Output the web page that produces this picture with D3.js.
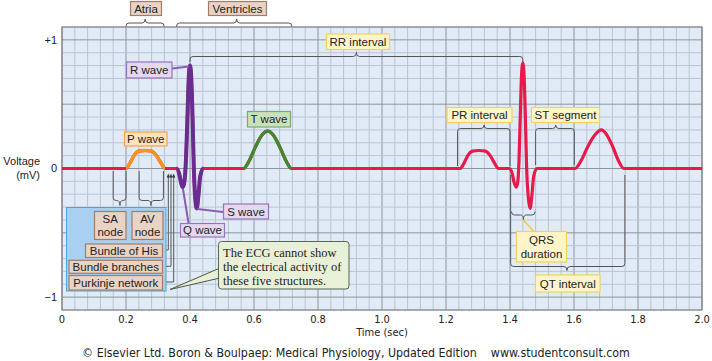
<!DOCTYPE html>
<html>
<head>
<meta charset="utf-8">
<script src="https://cdn.jsdelivr.net/npm/d3@7"></script>
<style>
body { margin: 0; background: #fff; }
text { font-family: "Liberation Sans", Arial, sans-serif; fill: #222; }
.narrow { font-family: "Liberation Sans Narrow", "DejaVu Sans Condensed", "Arial Narrow", sans-serif; font-stretch: condensed; }
.serif { font-family: "Liberation Serif", "DejaVu Serif", serif; }
</style>
</head>
<body>
<script>
// ECG trace: time (s), voltage (mV)
var ecgTime = [0, 0.200, 0.212, 0.225, 0.240, 0.260, 0.280, 0.295, 0.310, 0.322,
  0.358, 0.366, 0.372, 0.377, 0.382, 0.387, 0.392, 0.396, 0.400, 0.404, 0.408, 0.412, 0.416, 0.421, 0.426, 0.432, 0.442,
  0.567, 0.585, 0.605, 0.625, 0.643, 0.660, 0.680, 0.700, 0.717,
  1.244, 1.256, 1.268, 1.283, 1.303, 1.323, 1.338, 1.352, 1.364,
  1.399, 1.407, 1.413, 1.419, 1.424, 1.428, 1.432, 1.436, 1.440, 1.444, 1.448, 1.452, 1.457, 1.463, 1.468, 1.474, 1.484,
  1.603, 1.622, 1.643, 1.665, 1.685, 1.703, 1.721, 1.739, 1.756, 2.000];
var ecgVolt = [0, 0, 0.04, 0.10, 0.135, 0.14, 0.135, 0.10, 0.04, 0,
  0, -0.04, -0.11, -0.145, -0.11, 0.05, 0.40, 0.70, 0.80, 0.70, 0.40, 0.00, -0.22, -0.31, -0.22, -0.06, 0,
  0, 0.06, 0.17, 0.26, 0.29, 0.26, 0.17, 0.06, 0,
  0, 0.04, 0.10, 0.135, 0.14, 0.135, 0.10, 0.04, 0,
  0, -0.04, -0.11, -0.145, -0.11, 0.05, 0.40, 0.72, 0.82, 0.72, 0.40, 0.00, -0.22, -0.31, -0.22, -0.06, 0,
  0, 0.06, 0.17, 0.26, 0.30, 0.26, 0.17, 0.06, 0, 0];

// coloured waves of the first beat: start / end time
var waveNames = ["P", "QRS", "T"];
var waveStart = [0.200, 0.358, 0.567];
var waveEnd   = [0.322, 0.442, 0.717];
var waveColor = ["#f7941d", "#6a2c91", "#3f8a2f"];

var xTicks = [0, 0.2, 0.4, 0.6, 0.8, 1.0, 1.2, 1.4, 1.6, 1.8, 2.0];
var xTickLabels = ["0", "0.2", "0.4", "0.6", "0.8", "1.0", "1.2", "1.4", "1.6", "1.8", "2.0"];
var yTicks = [1, 0, -1];
var yTickLabels = ["+1", "0", "\u22121"];

var W = 712, H = 361;
var svg = d3.select('body').append('svg')
    .attr('width', W)
    .attr('height', H);

var x = d3.scaleLinear().domain([0, 2.0]).range([62, 702]);
var y = d3.scaleLinear().domain([-1.1, 1.1]).range([310, 27]);

// paper
svg.append('rect')
    .attr('x', x(0)).attr('y', y(1.1))
    .attr('width', x(2) - x(0)).attr('height', y(-1.1) - y(1.1))
    .attr('fill', '#e1ebf7');

var grid = svg.append('g');
d3.range(0, 51).forEach(function(i) {
    var t = i * 0.04;
    grid.append('line')
        .attr('x1', x(t)).attr('x2', x(t))
        .attr('y1', y(1.1)).attr('y2', y(-1.1))
        .attr('stroke', i % 5 === 0 ? '#8e9399' : '#b9c4d2')
        .attr('stroke-width', 1);
});
d3.range(-11, 12).forEach(function(i) {
    var v = i / 10;
    grid.append('line')
        .attr('x1', x(0)).attr('x2', x(2))
        .attr('y1', y(v)).attr('y2', y(v))
        .attr('stroke', i % 5 === 0 ? '#8e9399' : '#b9c4d2')
        .attr('stroke-width', 1);
});
svg.append('rect')
    .attr('x', x(0)).attr('y', y(1.1))
    .attr('width', x(2) - x(0)).attr('height', y(-1.1) - y(1.1))
    .attr('fill', 'none').attr('stroke', '#777');

// axes text
svg.selectAll('.xt').data(xTicks).enter().append('text')
    .attr('class', 'narrow')
    .attr('x', function(d) { return x(d); })
    .attr('y', 323)
    .attr('text-anchor', 'middle')
    .attr('font-size', 11)
    .text(function(d, i) { return xTickLabels[i]; });
svg.selectAll('.yt').data(yTicks).enter().append('text')
    .attr('x', 57)
    .attr('y', function(d) { return y(d); })
    .attr('dy', '0.35em')
    .attr('text-anchor', 'end')
    .attr('font-size', 11)
    .text(function(d, i) { return yTickLabels[i]; });
svg.append('text').attr('x', 40).attr('y', 165).attr('text-anchor', 'end')
    .attr('font-size', 11).text('Voltage');
svg.append('text').attr('x', 40).attr('y', 179).attr('text-anchor', 'end')
    .attr('font-size', 11).text('(mV)');
svg.append('text').attr('class', 'narrow').attr('x', 382).attr('y', 336)
    .attr('text-anchor', 'middle').attr('font-size', 11).text('Time (sec)');
svg.append('text').attr('class', 'narrow').attr('x', 356).attr('y', 357)
    .attr('text-anchor', 'middle').attr('font-size', 12.3)
    .attr('xml:space', 'preserve')
    .text('\u00a9 Elsevier Ltd. Boron & Boulpaep: Medical Physiology, Updated Edition    www.studentconsult.com');

// trace
var pts = ecgTime.map(function(t, i) { return [t, ecgVolt[i]]; });
var line = d3.line()
    .x(function(d) { return x(d[0]); })
    .y(function(d) { return y(d[1]); })
    .curve(d3.curveMonotoneX);

svg.append('path')
    .attr('d', line(pts))
    .attr('fill', 'none')
    .attr('stroke', '#e8194b')
    .attr('stroke-width', 3.2)
    .attr('stroke-linejoin', 'round');

var defs = svg.append('defs');
waveNames.forEach(function(n, i) {
    defs.append('clipPath').attr('id', 'clip' + n)
      .append('rect')
        .attr('x', x(waveStart[i])).attr('y', 0)
        .attr('width', x(waveEnd[i]) - x(waveStart[i])).attr('height', H);
    svg.append('path')
        .attr('d', line(pts))
        .attr('clip-path', 'url(#clip' + n + ')')
        .attr('fill', 'none')
        .attr('stroke', waveColor[i])
        .attr('stroke-width', n === 'QRS' ? 4 : 3.3)
        .attr('stroke-linejoin', 'round');
});

// braces / brackets
function brace(x1, x2, xt, yEnd, yBar, yTip) {
    var s = yEnd > yBar ? 1 : -1;
    var r = Math.min(3, Math.abs(yEnd - yBar));
    return 'M' + x1 + ',' + yEnd +
        'L' + x1 + ',' + (yBar + s * r) +
        'Q' + x1 + ',' + yBar + ' ' + (x1 + r) + ',' + yBar +
        'L' + (xt - 3) + ',' + yBar +
        'Q' + xt + ',' + yBar + ' ' + xt + ',' + yTip +
        'Q' + xt + ',' + yBar + ' ' + (xt + 3) + ',' + yBar +
        'L' + (x2 - r) + ',' + yBar +
        'Q' + x2 + ',' + yBar + ' ' + x2 + ',' + (yBar + s * r) +
        'L' + x2 + ',' + yEnd;
}
var br = svg.append('g').attr('fill', 'none').attr('stroke', '#555').attr('stroke-width', 1);
br.append('path').attr('d', brace(x(0.2), x(0.319), x(0.26), 26.5, 23, 19));      // atria
br.append('path').attr('d', brace(x(0.358), x(0.718), x(0.546), 26.5, 23, 19));   // ventricles
br.append('path').attr('d', brace(x(0.40), x(1.44), x(0.92), 62, 56.5, 52.5));    // RR
br.append('path').attr('d', brace(x(1.236), x(1.40), x(1.319), 166, 128.5, 125)); // PR
br.append('path').attr('d', brace(x(1.480), x(1.601), x(1.543), 165, 128.5, 125)); // ST
br.append('path').attr('d', brace(x(1.405), x(1.478), x(1.442), 211.5, 215, 219.5)); // QRS
br.append('path').attr('d', brace(x(1.402), x(1.759), x(1.578), 175, 266.5, 270.5)); // QT
br.append('path').attr('d', brace(x(0.160), x(0.200), x(0.181), 171, 200.5, 205.5)); // SA
br.append('path').attr('d', brace(x(0.241), x(0.317), x(0.278), 171, 200.5, 205.5)); // AV

// blue box of the conduction structures
svg.append('rect').attr('x', 66.5).attr('y', 207.5).attr('width', 99.5).attr('height', 83.5)
    .attr('fill', '#a9d0f0').attr('stroke', '#4aa3dc').attr('stroke-width', 1);

// leaders from His / branches / Purkinje
var legX = [168.3, 171, 173.7];
var legY = [250, 266.3, 282];
legX.forEach(function(lx, i) {
    br.append('path').attr('d', 'M162.3,' + legY[i] + 'H' + lx + 'V176');
    svg.append('path')
        .attr('d', 'M' + (lx - 1.6) + ',177.5L' + lx + ',173.5L' + (lx + 1.6) + ',177.5Z')
        .attr('fill', '#333');
});

// label boxes
function labelBox(x0, y0, w, h, lines, fill, stroke, fs) {
    var g = svg.append('g');
    g.append('rect')
        .attr('x', x0 + 0.5).attr('y', y0 + 0.5)
        .attr('width', w).attr('height', h)
        .attr('fill', fill).attr('stroke', stroke).attr('stroke-width', 1.2);
    var lh = 13.4;
    lines.forEach(function(s, i) {
        g.append('text')
            .attr('x', x0 + 0.5 + w / 2)
            .attr('y', y0 + 0.5 + h / 2 + (i - (lines.length - 1) / 2) * lh)
            .attr('dy', '0.36em')
            .attr('text-anchor', 'middle')
            .attr('font-size', fs || 11.5)
            .text(s);
    });
}
var brown = ['#e8d3c5', '#a27c68'];
var yellow = ['#fff5c9', '#f3d25a'];
var purple = ['#e4d8ef', '#9873c0'];

labelBox(130, 1, 31, 14, ['Atria'], brown[0], brown[1]);
labelBox(208, 1, 58, 14, ['Ventricles'], brown[0], brown[1]);
labelBox(326, 33.5, 63, 15.5, ['RR interval'], yellow[0], yellow[1]);
labelBox(446.5, 107, 65, 15, ['PR interval'], yellow[0], yellow[1]);
labelBox(531, 107, 68, 15, ['ST segment'], yellow[0], yellow[1]);
labelBox(516, 231, 50, 30.5, ['QRS', 'duration'], yellow[0], yellow[1]);
labelBox(535, 274.5, 64.5, 17, ['QT interval'], yellow[0], yellow[1]);
labelBox(124, 131.5, 42.5, 14, ['P wave'], '#fde2c0', '#f5a345');
labelBox(247, 111, 43, 15.5, ['T wave'], '#c9e2be', '#78ad68');
labelBox(94, 211, 31.5, 28, ['SA', 'node'], brown[0], brown[1]);
labelBox(131.5, 211, 31, 28, ['AV', 'node'], brown[0], brown[1]);
labelBox(85, 243.5, 77, 13.5, ['Bundle of His'], brown[0], brown[1]);
labelBox(68.5, 259.8, 93.5, 13, ['Bundle branches'], brown[0], brown[1]);
labelBox(68.5, 275, 93.5, 14.5, ['Purkinje network'], brown[0], brown[1]);

// purple leaders
var pl = svg.append('g').attr('stroke', '#8a5cb8').attr('stroke-width', 2).attr('fill', 'none');
pl.append('path').attr('d', 'M172,68.5L189,66.5');
pl.append('path').attr('d', 'M183,189L188.5,223');
pl.append('path').attr('d', 'M197.5,209L223,212');
labelBox(126, 61.5, 45.5, 16, ['R wave'], purple[0], purple[1]);
labelBox(180, 223, 44, 13.5, ['Q wave'], purple[0], purple[1]);
labelBox(223, 203.5, 45, 15, ['S wave'], purple[0], purple[1]);

// QRS yellow leader
svg.append('path').attr('d', 'M523.3,220L533.5,231')
    .attr('stroke', '#f0c93a').attr('stroke-width', 1.5);

// callout
svg.append('path').attr('d', 'M220,268L170,289.5L220,278')
    .attr('fill', '#e8f1d7').attr('stroke', '#4e5644').attr('stroke-width', 1);
svg.append('rect').attr('x', 218.5).attr('y', 241.5).attr('width', 130.5).attr('height', 47.5)
    .attr('rx', 3).attr('fill', '#e8f1d7').attr('stroke', '#5b6450').attr('stroke-width', 1);
var callout = ['The ECG cannot show', 'the electrical activity of', 'these five structures.'];
callout.forEach(function(s, i) {
    svg.append('text').attr('class', 'serif')
        .attr('x', 223).attr('y', 256.5 + i * 14)
        .attr('font-size', 12.5)
        .text(s);
});
</script>
</body>
</html>
